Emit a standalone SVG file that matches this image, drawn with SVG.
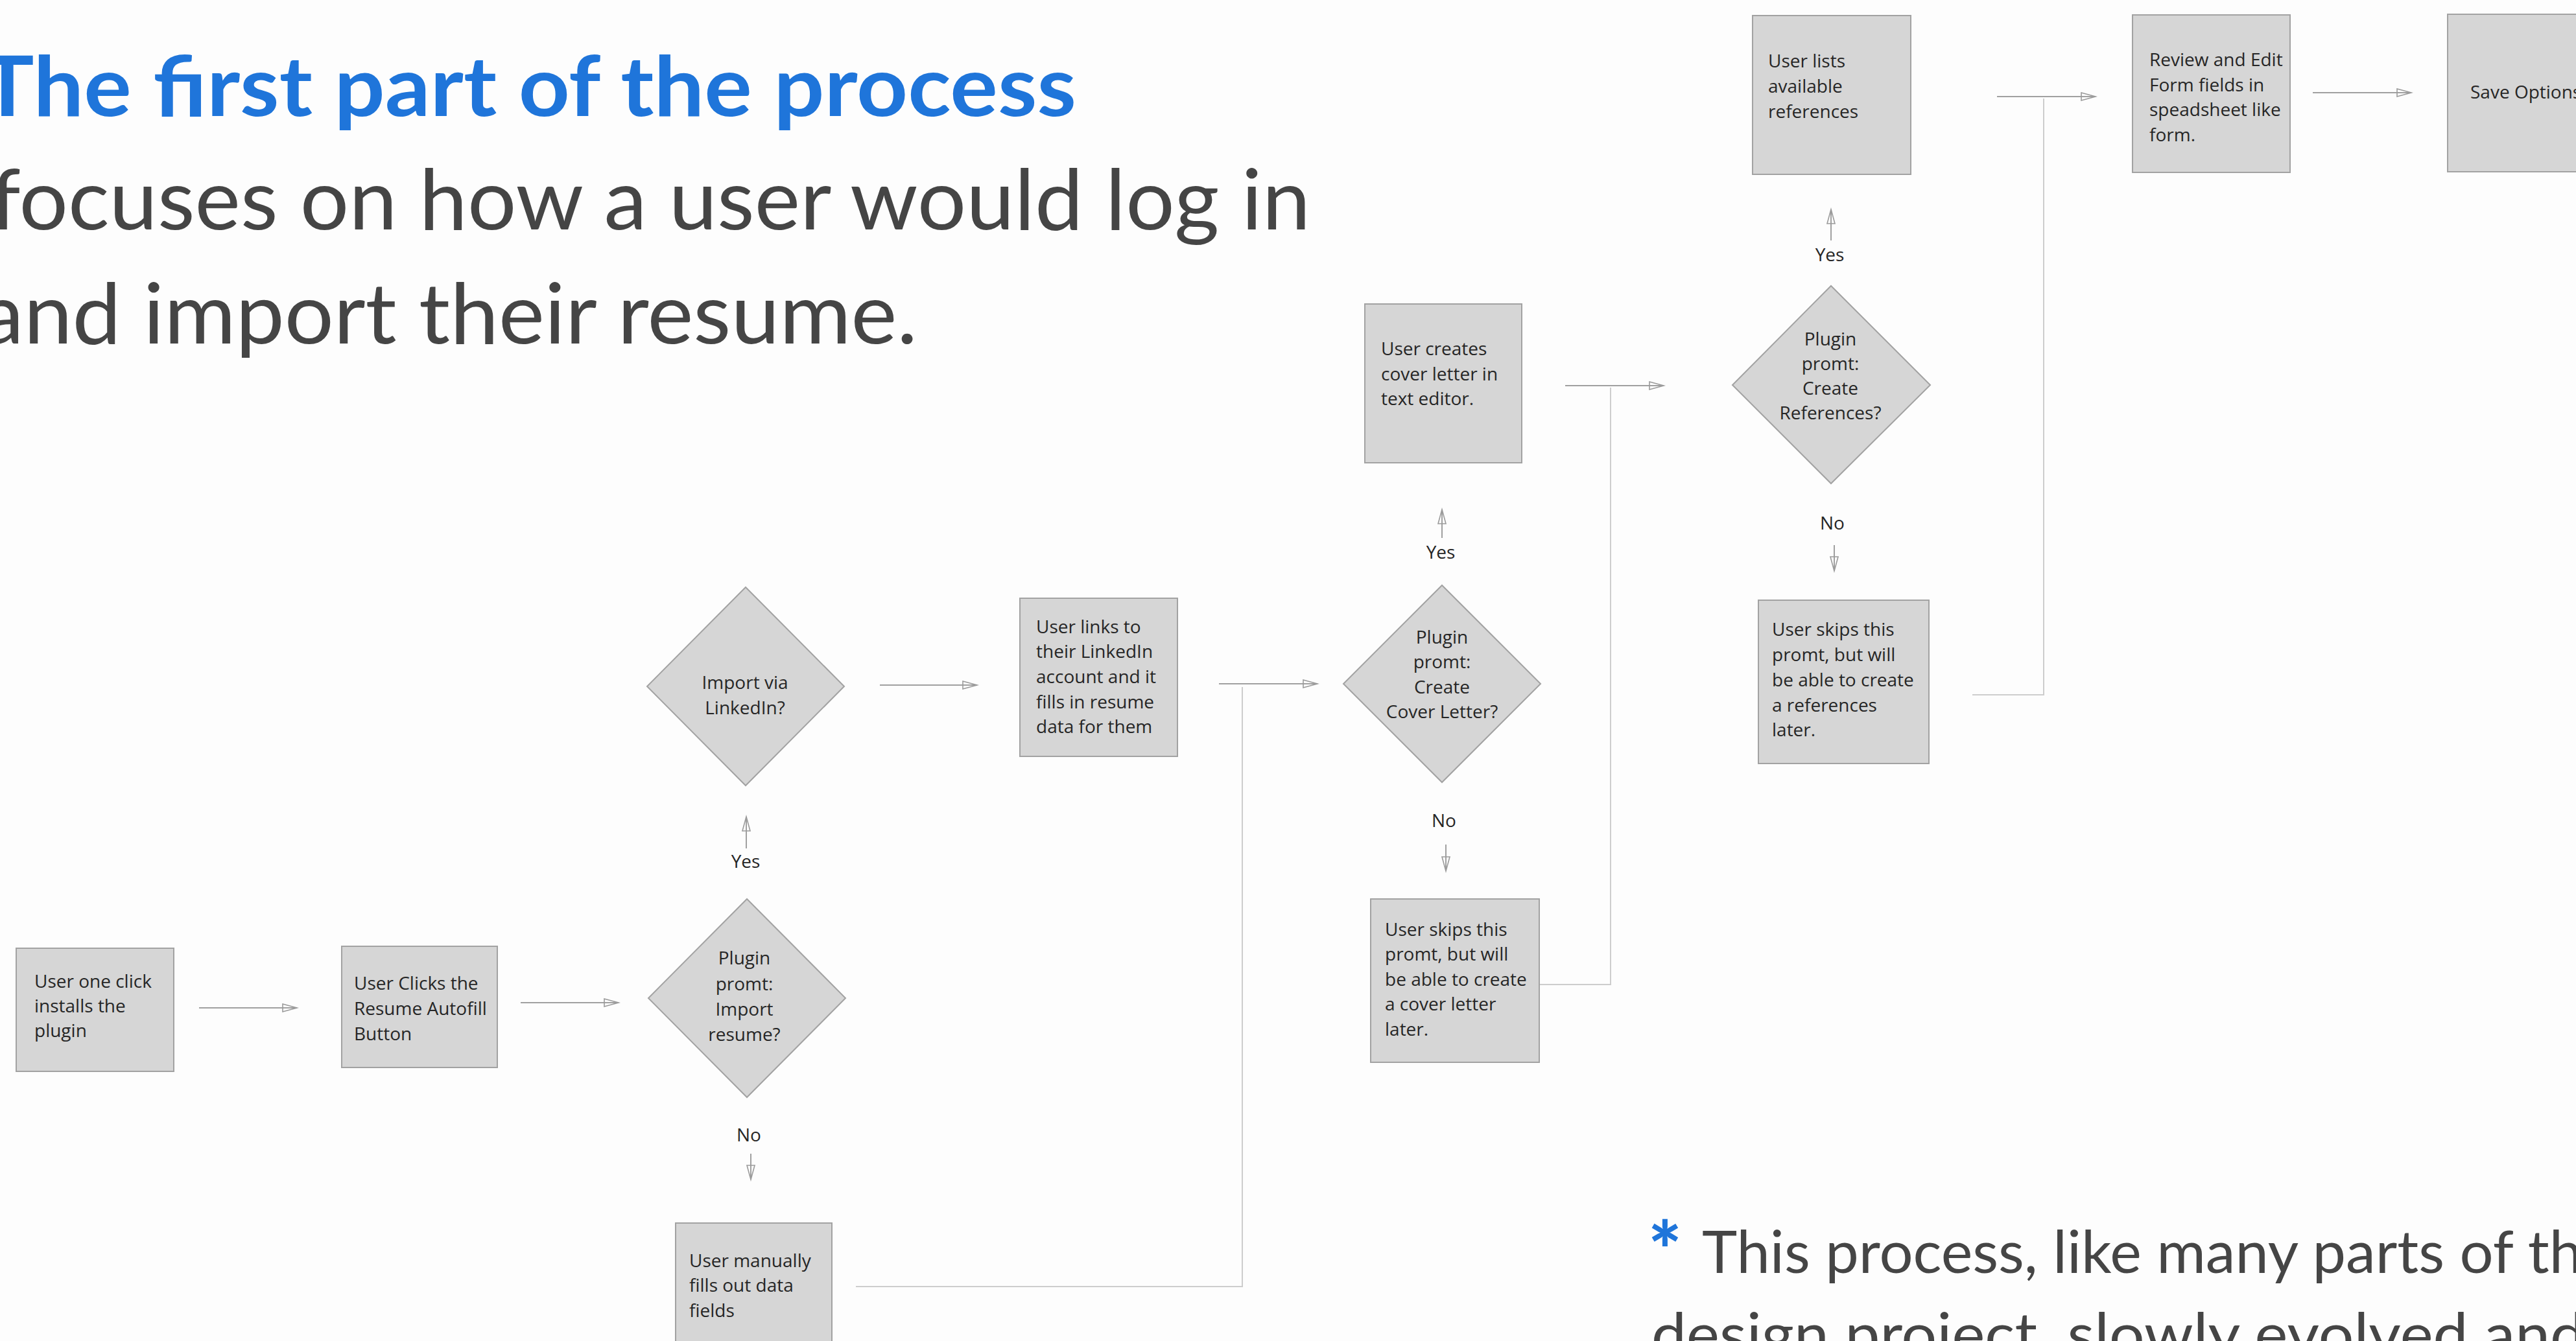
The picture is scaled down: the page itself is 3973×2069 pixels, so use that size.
<svg xmlns="http://www.w3.org/2000/svg" width="3973" height="2069" viewBox="0 0 3973 2069">
<defs>
<style>
.bg{fill:#fdfdfd}
.box{fill:#d6d6d6;stroke:#a2a2a2;stroke-width:2}
.t{font-family:"Open Sans","Liberation Sans",sans-serif;font-size:28px;fill:#262626}
.c{text-anchor:middle}
.arr{fill:none;stroke:#a0a0a0;stroke-width:2;marker-end:url(#ah)}
.elb{fill:none;stroke:#cdcdcd;stroke-width:2}
.h1{font-family:Lato,"Open Sans",sans-serif;font-weight:700;font-size:128px;fill:#1f75da}
.h2{font-family:Lato,"Open Sans",sans-serif;font-size:130px;fill:#454545}
.note{font-family:Lato,"Open Sans",sans-serif;font-size:92px;fill:#454545}
.ast{font-family:Lato,"Open Sans",sans-serif;font-weight:900;font-size:122px;fill:#1f75da}
</style>
<marker id="ah" markerUnits="userSpaceOnUse" markerWidth="28" markerHeight="18" refX="25" refY="9" orient="auto">
<path d="M3,3 L25,9 L3,15 Z" fill="none" stroke="#9a9a9a" stroke-width="1.6"/>
</marker>
</defs>
<rect class="bg" x="0" y="0" width="3973" height="2069"/>

<g id="heading">
<text class="h1" x="-30" y="179" textLength="1690" lengthAdjust="spacingAndGlyphs">The first part of the process</text>
<text class="h2" x="-15" y="354" textLength="2036" lengthAdjust="spacingAndGlyphs">focuses on how a user would log in</text>
<text class="h2" x="-30" y="530" textLength="1445" lengthAdjust="spacingAndGlyphs">and import their resume.</text>
</g>

<g id="note">
<text class="ast" x="2542" y="1974">*</text>
<text class="note" x="2625" y="1964" textLength="1358" lengthAdjust="spacingAndGlyphs">This process, like many parts of th</text>
<text class="note" x="2547" y="2091" textLength="1440" lengthAdjust="spacingAndGlyphs">design project, slowly evolved and</text>
</g>

<g id="connectors">
<line class="arr" x1="307" y1="1555" x2="458" y2="1555"/>
<line class="arr" x1="803" y1="1547" x2="954" y2="1547"/>
<line class="arr" x1="1158" y1="1780" x2="1158" y2="1820"/>
<line class="arr" x1="1151" y1="1309" x2="1151" y2="1260"/>
<line class="arr" x1="1357" y1="1057" x2="1507" y2="1057"/>
<line class="arr" x1="1880" y1="1055" x2="2032" y2="1055"/>
<polyline class="elb" points="1320,1985 1916,1985 1916,1060"/>
<line class="arr" x1="2224" y1="830" x2="2224" y2="786"/>
<line class="arr" x1="2230" y1="1303" x2="2230" y2="1344"/>
<line class="arr" x1="2414" y1="595" x2="2566" y2="595"/>
<polyline class="elb" points="2375,1519 2484,1519 2484,598"/>
<line class="arr" x1="2824" y1="371" x2="2824" y2="323"/>
<line class="arr" x1="2829" y1="841" x2="2829" y2="881"/>
<line class="arr" x1="3080" y1="149" x2="3232" y2="149"/>
<polyline class="elb" points="3042,1072 3152,1072 3152,152"/>
<line class="arr" x1="3567" y1="143" x2="3719" y2="143"/>
<text class="t c" x="1155" y="1761">No</text>
<text class="t c" x="1150" y="1339">Yes</text>
<text class="t c" x="2222" y="862">Yes</text>
<text class="t c" x="2227" y="1276">No</text>
<text class="t c" x="2822" y="403">Yes</text>
<text class="t c" x="2826" y="817">No</text>
</g>

<g id="n-install">
<rect class="box" x="25" y="1463" width="243" height="190"/>
<text class="t" x="53" y="1524">User one click</text>
<text class="t" x="53" y="1562">installs the</text>
<text class="t" x="53" y="1600">plugin</text>
</g>

<g id="n-clicks">
<rect class="box" x="527" y="1460" width="240" height="187"/>
<text class="t" x="546" y="1527">User Clicks the</text>
<text class="t" x="546" y="1566">Resume Autofill</text>
<text class="t" x="546" y="1605">Button</text>
</g>

<g id="n-import-resume">
<polygon class="box" points="1152,1387 1304,1540 1152,1693 1000,1540"/>
<text class="t c" x="1148" y="1488">Plugin</text>
<text class="t c" x="1148" y="1528">promt:</text>
<text class="t c" x="1148" y="1567">Import</text>
<text class="t c" x="1148" y="1606">resume?</text>
</g>

<g id="n-manual">
<rect class="box" x="1042" y="1887" width="241" height="250"/>
<text class="t" x="1063" y="1955">User manually</text>
<text class="t" x="1063" y="1993">fills out data</text>
<text class="t" x="1063" y="2032">fields</text>
</g>

<g id="n-linkedin-q">
<polygon class="box" points="1150,906 1302,1059 1150,1212 998,1059"/>
<text class="t c" x="1149" y="1063">Import via</text>
<text class="t c" x="1149" y="1102">LinkedIn?</text>
</g>

<g id="n-linkedin">
<rect class="box" x="1573" y="923" width="243" height="244"/>
<text class="t" x="1598" y="977">User links to</text>
<text class="t" x="1598" y="1015">their LinkedIn</text>
<text class="t" x="1598" y="1054">account and it</text>
<text class="t" x="1598" y="1093">fills in resume</text>
<text class="t" x="1598" y="1131">data for them</text>
</g>

<g id="n-cover-q">
<polygon class="box" points="2224,903 2376,1055 2224,1207 2072,1055"/>
<text class="t c" x="2224" y="993">Plugin</text>
<text class="t c" x="2224" y="1031">promt:</text>
<text class="t c" x="2224" y="1070">Create</text>
<text class="t c" x="2224" y="1108">Cover Letter?</text>
</g>

<g id="n-cover-create">
<rect class="box" x="2105" y="469" width="242" height="245"/>
<text class="t" x="2130" y="548">User creates</text>
<text class="t" x="2130" y="587">cover letter in</text>
<text class="t" x="2130" y="625">text editor.</text>
</g>

<g id="n-cover-skip">
<rect class="box" x="2114" y="1387" width="260" height="252"/>
<text class="t" x="2136" y="1444">User skips this</text>
<text class="t" x="2136" y="1482">promt, but will</text>
<text class="t" x="2136" y="1521">be able to create</text>
<text class="t" x="2136" y="1559">a cover letter</text>
<text class="t" x="2136" y="1598">later.</text>
</g>

<g id="n-ref-q">
<polygon class="box" points="2824,441 2977,594 2824,746 2672,594"/>
<text class="t c" x="2823" y="533">Plugin</text>
<text class="t c" x="2823" y="571">promt:</text>
<text class="t c" x="2823" y="609">Create</text>
<text class="t c" x="2823" y="647">References?</text>
</g>

<g id="n-ref-list">
<rect class="box" x="2703" y="24" width="244" height="245"/>
<text class="t" x="2727" y="104">User lists</text>
<text class="t" x="2727" y="143">available</text>
<text class="t" x="2727" y="182">references</text>
</g>

<g id="n-ref-skip">
<rect class="box" x="2712" y="926" width="263" height="252"/>
<text class="t" x="2733" y="981">User skips this</text>
<text class="t" x="2733" y="1020">promt, but will</text>
<text class="t" x="2733" y="1059">be able to create</text>
<text class="t" x="2733" y="1098">a references</text>
<text class="t" x="2733" y="1136">later.</text>
</g>

<g id="n-review">
<rect class="box" x="3289" y="23" width="243" height="243"/>
<text class="t" x="3315" y="102">Review and Edit</text>
<text class="t" x="3315" y="141">Form fields in</text>
<text class="t" x="3315" y="179">speadsheet like</text>
<text class="t" x="3315" y="218">form.</text>
</g>

<g id="n-save">
<rect class="box" x="3775" y="22" width="250" height="243"/>
<text class="t" x="3810" y="152">Save Options</text>
</g>
</svg>
